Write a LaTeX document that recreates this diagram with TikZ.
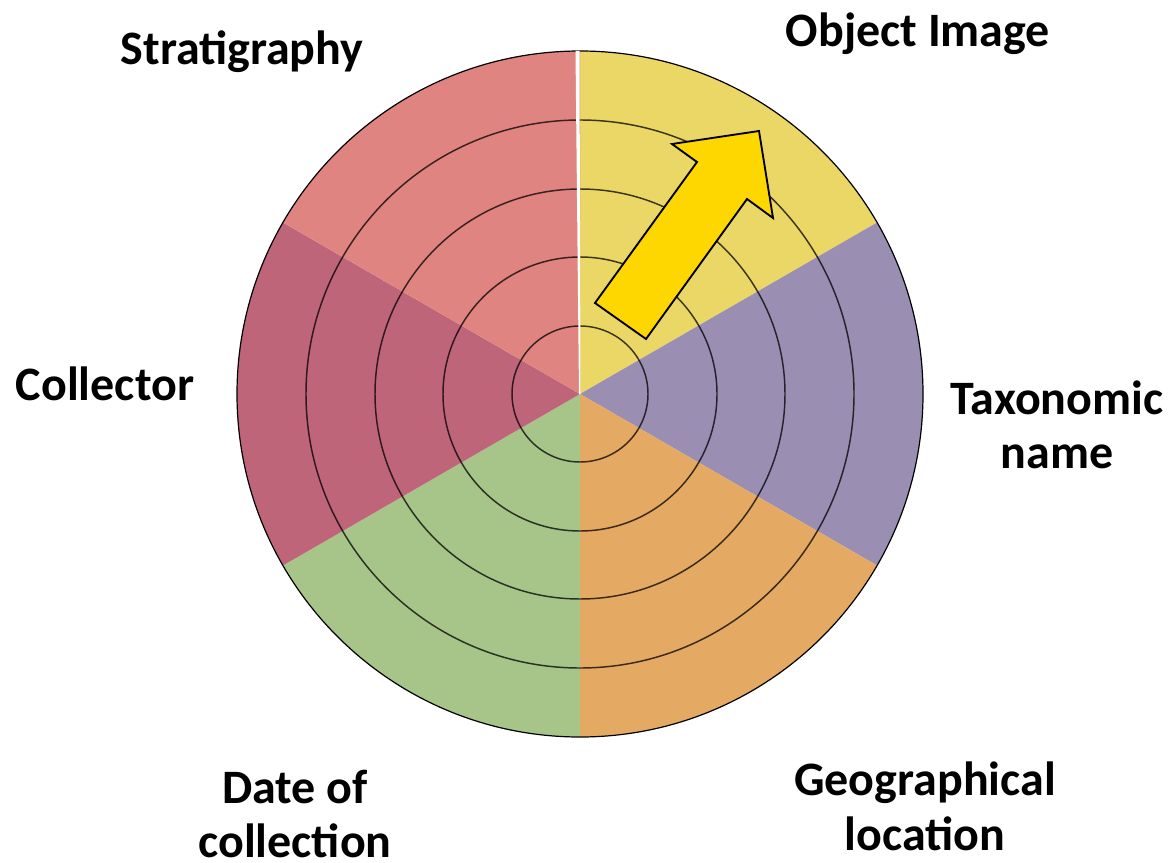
\documentclass[tikz,border=0pt]{standalone}
\usepackage{fontspec}
\setmainfont{Carlito}
\definecolor{cpink}{HTML}{E08482}
\definecolor{cyellow}{HTML}{EBD766}
\definecolor{cpurple}{HTML}{9A8FB2}
\definecolor{corange}{HTML}{E4A963}
\definecolor{cgreen}{HTML}{A7C489}
\definecolor{ccrimson}{HTML}{BE6579}
\definecolor{carrow}{HTML}{FFD700}
\begin{document}
\begin{tikzpicture}[x=0.75pt,y=-0.75pt,
  lbl/.style={font=\bfseries\fontsize{36}{41}\selectfont,align=center,inner sep=0pt},
  ring/.style={draw=black,draw opacity=0.75,line width=1.1pt},
  sector/.style={draw=none}]
\useasboundingbox (0,0) rectangle (1171,863);
\coordinate (c) at (580,394);
\def\R{343}
% sectors (angles measured with y downward => use negative angles)
\fill[cyellow] (c) -- ++(-30:\R) arc[start angle=-30,end angle=-90,radius=\R] -- cycle;
\fill[cpurple] (c) -- ++(30:\R) arc[start angle=30,end angle=-30,radius=\R] -- cycle;
\fill[corange] (c) -- ++(90:\R) arc[start angle=90,end angle=30,radius=\R] -- cycle;
\fill[cgreen] (c) -- ++(150:\R) arc[start angle=150,end angle=90,radius=\R] -- cycle;
\fill[ccrimson] (c) -- ++(210:\R) arc[start angle=210,end angle=150,radius=\R] -- cycle;
\fill[cpink] (c) -- ++(270:\R) arc[start angle=270,end angle=210,radius=\R] -- cycle;
% rings
\foreach \r in {68,137,205,274}{\draw[ring] (c) circle[radius=\r];}
\draw[black,line width=0.9pt] (c) circle[radius=\R];
% white gap at top
\fill[white] (579,394) -- (580.5,394) -- (579.5,51) -- (575.5,51) -- cycle;
% arrow
\node[coordinate] (a1) at (595,303) {};
\node[coordinate] (a2) at (646,339) {};
\node[coordinate] (a3) at (747,199) {};
\node[coordinate] (a4) at (773,218) {};
\node[coordinate] (a5) at (759,131) {};
\node[coordinate] (a6) at (672,144) {};
\node[coordinate] (a7) at (697,162) {};
\filldraw[fill=carrow,draw=black,line width=1.4pt,line join=miter] (a1) -- (a2) -- (a3) -- (a4) -- (a5) -- (a6) -- (a7) -- cycle;
% labels
\node[lbl] (strat) at (242,52) {Stratigraphy};
\node[lbl] (obj) at (918,34) {Object Image};
\node[lbl] (coll) at (105,384) {Collector};
\node[lbl] (tax) at (1057,425) {Taxonomic\\name};
\node[lbl] (date) at (295,814) {Date of\\collection};
\node[lbl] (geo) at (925,806) {Geographical\\location};
\end{tikzpicture}
\end{document}
